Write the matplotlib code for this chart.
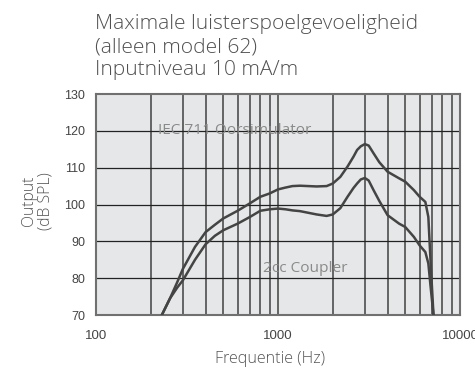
import matplotlib
matplotlib.use("Agg")
import matplotlib.pyplot as plt
from matplotlib.ticker import FixedLocator, NullLocator, FixedFormatter

# ---- data ----
freq_iec = [230, 255, 280, 300, 350, 400, 450, 500, 600, 700, 800, 900, 1000,
            1100, 1200, 1320, 1630, 1850, 2000, 2200, 2410, 2600, 2720, 2850,
            3000, 3150, 3350, 3600, 4000, 4630, 5000, 5580, 6000, 6450, 6700,
            6900, 7150]
db_iec = [70, 74.5, 79, 82.5, 88.5, 92.5, 94.5, 96.2, 98.3, 100.3, 102.1, 103, 104.1,
          104.6, 105, 105.1, 104.9, 105.0, 105.7, 107.5, 110.3, 113, 114.8, 115.8,
          116.4, 116, 113.9, 111.5, 108.9, 107.1, 106.2, 103.9, 102.1, 100.7, 96.6,
          84, 70]

freq_2cc = [230, 255, 280, 300, 350, 400, 450, 500, 600, 700, 800, 900, 1000,
            1100, 1200, 1320, 1630, 1850, 2000, 2200, 2410, 2600, 2720, 2850,
            3000, 3150, 3350, 3600, 4000, 4630, 5000, 5580, 6000, 6450, 6700,
            6900, 7150]
db_2cc = [70, 74.5, 77.5, 79.4, 85, 89.2, 91.5, 93, 94.8, 96.6, 98.3, 98.7, 98.9,
          98.7, 98.4, 98.2, 97.3, 96.9, 97.3, 99, 102.1, 104.5, 105.7, 106.8,
          107.2, 106.5, 103.9, 101, 97.1, 94.8, 93.9, 91.2, 88.9, 87.1, 84,
          77.5, 70]

y_ticks = [70, 80, 90, 100, 110, 120, 130]
x_ticks = [100, 1000, 10000]
x_tick_labels = ["100", "1000", "10000"]
x_minor = [200, 300, 400, 500, 600, 700, 800, 900,
           2000, 3000, 4000, 5000, 6000, 7000, 8000, 9000]

title_lines = ["Maximale luisterspoelgevoeligheid",
               "(alleen model 62)",
               "Inputniveau 10 mA/m"]

W, H = 475, 371
FONT = "Open Sans"
fig = plt.figure(figsize=(W / 100, H / 100), dpi=100)
ax = fig.add_axes([96 / W, 1 - 315 / H, (460 - 96) / W, (315 - 94) / H])
ax.set_facecolor("#e6e7e8")
ax.set_xscale("log")
ax.set_xlim(100, 10000)
ax.set_ylim(70, 130)

# grid
for f in x_minor + [1000]:
    ax.axvline(f, color="#5a5a5a", lw=1.3, zorder=1)
for y in y_ticks[1:-1]:
    ax.axhline(y, color="#222222", lw=0.9, zorder=1)

ax.plot(freq_iec, db_iec, color="#444444", lw=1.8, zorder=3,
        solid_joinstyle="round", solid_capstyle="round")
ax.plot(freq_2cc, db_2cc, color="#444444", lw=1.8, zorder=3,
        solid_joinstyle="round", solid_capstyle="round")

for s in ax.spines.values():
    s.set_color("#707070")
    s.set_linewidth(1.5)

ax.xaxis.set_major_locator(FixedLocator(x_ticks))
ax.xaxis.set_major_formatter(FixedFormatter(x_tick_labels))
ax.xaxis.set_minor_locator(NullLocator())
ax.set_yticks(y_ticks)
ax.tick_params(axis="both", length=0)
ax.tick_params(axis="x", pad=11, labelsize=9.5, labelcolor="#444444")
ax.tick_params(axis="y", pad=8, labelsize=9, labelcolor="#444444")
for lab in ax.get_xticklabels() + ax.get_yticklabels():
    lab.set_family("Liberation Sans")

renderer = fig.canvas.get_renderer()


def fit(t, target_px, horizontal=True):
    bb = t.get_window_extent(renderer)
    cur = bb.width if horizontal else bb.height
    t.set_fontsize(t.get_fontsize() * target_px / cur)


t1 = fig.text(158 / W, 1 - 130 / H, "IEC 711 Oorsimulator", family=FONT,
              fontsize=10.5, color="#8a8a8a", va="center", ha="left", zorder=5)
fit(t1, 154)
t2 = fig.text(263 / W, 1 - 268 / H, "2cc Coupler", family=FONT,
              fontsize=t1.get_fontsize(), color="#8a8a8a", va="center",
              ha="left", zorder=5)

tl = []
for i, line in enumerate(title_lines):
    tl.append(fig.text(95 / W, 1 - (29.5 + 23 * i) / H, line, family=FONT,
                       fontweight="light",
                       fontsize=14, color="#505050", va="baseline", ha="left"))
fit(tl[0], 324)
for t in tl[1:]:
    t.set_fontsize(tl[0].get_fontsize())

tx = fig.text(270 / W, 1 - 359 / H, "Frequentie (Hz)", family=FONT,
              fontweight="light",
              fontsize=10, color="#555555", ha="center", va="center")
fit(tx, 110)
ty = fig.text(37 / W, 1 - 201 / H, "Output\n(dB SPL)", family=FONT,
              fontweight="light",
              fontsize=10.5, color="#555555", ha="center",
              va="center", rotation=90, linespacing=1.05, multialignment="center")
fit(ty, 58, horizontal=False)

fig.savefig("out.png", dpi=100)
